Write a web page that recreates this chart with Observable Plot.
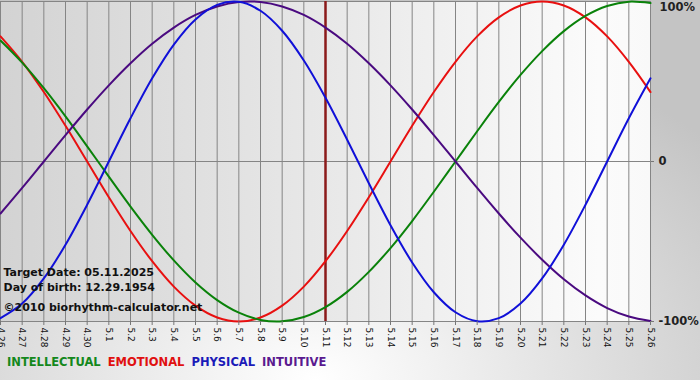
<!DOCTYPE html>
<html><head><meta charset="utf-8">
<script src="https://cdn.jsdelivr.net/npm/d3@7"></script>
<script src="https://cdn.jsdelivr.net/npm/@observablehq/plot@0.6"></script>
<style>
html,body{margin:0;padding:0;background:#fff;}
#chart{width:700px;height:380px;position:relative;overflow:hidden;
  background: radial-gradient(ellipse 75% 95% at 45% 100%, #ffffff 0%, #e4e4e4 45%, #c4c4c4 100%);
  font-family:"DejaVu Sans",Verdana,sans-serif;}
#chart svg{display:block;background:transparent;}
#legend{height:30px;box-sizing:border-box;padding:5px 0 0 7px;font-weight:bold;font-size:11.5px;line-height:14px;white-space:pre;}
#legend span{margin-right:7px;}
</style></head><body><div id="chart"></div>
<script>
const dayLabels = ["4.26","4.27","4.28","4.29","4.30","5.1","5.2","5.3","5.4","5.5","5.6","5.7","5.8","5.9","5.10","5.11","5.12","5.13","5.14","5.15","5.16","5.17","5.18","5.19","5.20","5.21","5.22","5.23","5.24","5.25","5.26"];
const targetLabel = "5.11";
const physical = [-0.979,-0.888,-0.731,-0.520,-0.270,0,0.270,0.520,0.731,0.888,0.979,0.998,0.942,0.817,0.631,0.398,0.136,-0.136,-0.398,-0.631,-0.817,-0.942,-0.998,-0.979,-0.888,-0.731,-0.520,-0.270,0,0.270,0.520];
const emotional = [0.782,0.623,0.434,0.223,0,-0.223,-0.434,-0.623,-0.782,-0.901,-0.975,-1,-0.975,-0.901,-0.782,-0.623,-0.434,-0.223,0,0.223,0.434,0.623,0.782,0.901,0.975,1,0.975,0.901,0.782,0.623,0.434];
const intellectual = [0.756,0.618,0.458,0.282,0.095,-0.095,-0.282,-0.458,-0.618,-0.756,-0.866,-0.945,-0.990,-0.999,-0.972,-0.910,-0.815,-0.690,-0.541,-0.372,-0.189,0,0.189,0.372,0.541,0.690,0.815,0.910,0.972,0.999,0.990];
const intuitive = [-0.325,-0.165,0,0.165,0.325,0.476,0.614,0.736,0.837,0.916,0.969,0.997,0.997,0.969,0.916,0.837,0.736,0.614,0.476,0.325,0.165,0,-0.165,-0.325,-0.476,-0.614,-0.736,-0.837,-0.916,-0.969,-0.997];
const seriesNames = ["INTELLECTUAL","EMOTIONAL","PHYSICAL","INTUITIVE"];
const yTicks = [-1, 0, 1];
const infoLines = ["Target Date: 05.11.2025", "Day of birth: 12.29.1954", "\u00a92010 biorhythm-calculator.net"];

const lineColors = {INTELLECTUAL:"#0a820a", EMOTIONAL:"#e81010", PHYSICAL:"#1010d8", INTUITIVE:"#4a0a80"};
const legendColors = {INTELLECTUAL:"#14881c", EMOTIONAL:"#e01010", PHYSICAL:"#1a1ab8", INTUITIVE:"#5a1a90"};

const days = dayLabels.map((_, i) => i);
const toRows = (arr, name) => arr.map((v, i) => ({day: i, value: v, series: name}));
const seriesData = {
  INTELLECTUAL: toRows(intellectual, "INTELLECTUAL"),
  EMOTIONAL: toRows(emotional, "EMOTIONAL"),
  PHYSICAL: toRows(physical, "PHYSICAL"),
  INTUITIVE: toRows(intuitive, "INTUITIVE")
};
const targetDay = dayLabels.indexOf(targetLabel);
const drawOrder = ["EMOTIONAL","INTELLECTUAL","INTUITIVE","PHYSICAL"];

const plot = Plot.plot({
  width: 700,
  height: 350,
  marginLeft: 0,
  marginRight: 50,
  marginTop: 1,
  marginBottom: 29,
  style: {fontFamily: "'DejaVu Sans', Verdana, sans-serif", background: "transparent", overflow: "visible"},
  x: {domain: [0, days.length - 1]},
  y: {domain: [-1, 1]},
  marks: [
    Plot.frame({fill: "url(#bgGrad)", stroke: "none"}),
    Plot.ruleX(days, {x: d => d, stroke: "#858585", strokeWidth: 1}),
    Plot.ruleY(yTicks, {y: d => d, stroke: "#858585", strokeWidth: 1}),
    Plot.ruleX([targetDay], {x: d => d, stroke: "#8b1a1a", strokeWidth: 2.5}),
    ...drawOrder.map(name => Plot.line(seriesData[name], {x: "day", y: "value", stroke: lineColors[name], strokeWidth: 2, curve: "catmull-rom"})),
    Plot.axisX({ticks: days, tickFormat: i => dayLabels[i], tickRotate: 90, tickSize: 4, tickPadding: 2, fontSize: 9, stroke: "#777", fill: "#111", label: null}),
    Plot.axisY({anchor: "right", ticks: yTicks.filter(t => t < 1), tickFormat: d => d === 0 ? "0" : Math.round(d * 100) + "%", tickSize: 3, tickPadding: 5, fontSize: 11.5, fontWeight: "bold", stroke: "#777", fill: "#222", label: null}),
    Plot.axisY({anchor: "right", ticks: yTicks.filter(t => t === 1), tickFormat: d => Math.round(d * 100) + "%", tickSize: 0, tickPadding: 9, dy: 6, fontSize: 11.5, fontWeight: "bold", fill: "#222", label: null}),
    Plot.text([infoLines[0]], {text: d => d, frameAnchor: "bottom-left", textAnchor: "start", lineAnchor: "middle", dx: 3, dy: -49, fontSize: 11, fontWeight: "bold", fill: "#111"}),
    Plot.text([infoLines[1]], {text: d => d, frameAnchor: "bottom-left", textAnchor: "start", lineAnchor: "middle", dx: 3, dy: -34, fontSize: 11, fontWeight: "bold", fill: "#111"}),
    Plot.text([infoLines[2]], {text: d => d, frameAnchor: "bottom-left", textAnchor: "start", lineAnchor: "middle", dx: 3, dy: -14, fontSize: 11, fontWeight: "bold", fill: "#111"})
  ]
});
plot.insertAdjacentHTML("afterbegin", '<defs><linearGradient id="bgGrad" x1="0" y1="0" x2="1" y2="0"><stop offset="0" stop-color="#d3d3d3"/><stop offset="0.5" stop-color="#e8e8e8"/><stop offset="0.92" stop-color="#fbfbfb"/><stop offset="1" stop-color="#f9f9f9"/></linearGradient></defs>');
const chart = document.getElementById("chart");
chart.appendChild(plot);
const legend = document.createElement("div");
legend.id = "legend";
seriesNames.forEach(name => {
  const s = document.createElement("span");
  s.textContent = name;
  s.style.color = legendColors[name];
  legend.appendChild(s);
});
chart.appendChild(legend);
</script></body></html>
